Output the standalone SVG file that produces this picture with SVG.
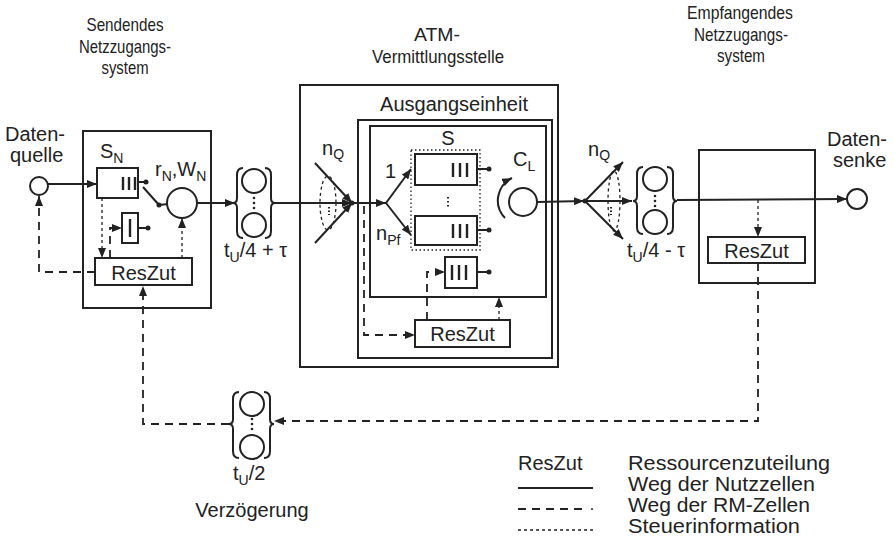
<svg xmlns="http://www.w3.org/2000/svg" width="895" height="539" viewBox="0 0 895 539">
<defs>
<marker id="ah" viewBox="0 0 10 8" refX="10" refY="4" markerWidth="10" markerHeight="8" markerUnits="userSpaceOnUse" orient="auto"><path d="M0,0 L10,4 L0,8 z" fill="#222"/></marker>
</defs>
<style>
text{font-family:"Liberation Sans",Arial,sans-serif;font-size:20px;fill:#222}
.t{font-size:19px;text-anchor:middle}
.sub{font-size:14px}
.box{fill:none;stroke:#222;stroke-width:2}
.sol{fill:none;stroke:#222;stroke-width:2}
.rm{fill:none;stroke:#222;stroke-width:1.8;stroke-dasharray:8 6}
.ctl{fill:none;stroke:#222;stroke-width:1.3;stroke-dasharray:3 3}
.dot{fill:#222}
.c{fill:#fff;stroke:#222;stroke-width:2}
.bar{stroke:#222;stroke-width:2.4}
</style>
<rect width="895" height="539" fill="#fff"/>

<g id="titles">
<text class="t" x="125" y="31" textLength="77" lengthAdjust="spacingAndGlyphs">Sendendes</text>
<text class="t" x="125" y="52.5" textLength="92" lengthAdjust="spacingAndGlyphs">Netzzugangs-</text>
<text class="t" x="125" y="74" textLength="47" lengthAdjust="spacingAndGlyphs">system</text>
<text class="t" x="437" y="41" textLength="46" lengthAdjust="spacingAndGlyphs">ATM-</text>
<text class="t" x="438" y="63" textLength="132" lengthAdjust="spacingAndGlyphs">Vermittlungsstelle</text>
<text class="t" x="740" y="19" textLength="106" lengthAdjust="spacingAndGlyphs">Empfangendes</text>
<text class="t" x="741" y="40.5" textLength="94" lengthAdjust="spacingAndGlyphs">Netzzugangs-</text>
<text class="t" x="741" y="62" textLength="48" lengthAdjust="spacingAndGlyphs">system</text>
</g>

<g id="datenquelle">
<text x="5" y="141">Daten-</text>
<text x="10" y="162">quelle</text>
<circle class="c" cx="39" cy="186" r="9"/>
</g>

<g id="sender">
<rect class="box" x="83" y="131" width="128" height="177"/>
<text x="100" y="158">S<tspan class="sub" dy="5">N</tspan></text>
<rect class="box" x="97" y="168" width="41" height="30"/>
<line class="bar" x1="123" y1="177" x2="123" y2="190"/>
<line class="bar" x1="129" y1="177" x2="129" y2="190"/>
<line class="bar" x1="135" y1="177" x2="135" y2="190"/>
<line class="sol" x1="138" y1="182" x2="146" y2="182"/>
<circle class="dot" cx="146" cy="182" r="2.5"/>
<line class="sol" x1="143" y1="187" x2="159" y2="205"/>
<circle class="dot" cx="159" cy="205" r="2.5"/>
<line class="sol" x1="159" y1="205" x2="168" y2="204"/>
<circle class="c" cx="182" cy="203" r="15"/>
<text x="155" y="176">r<tspan class="sub" dy="5">N</tspan><tspan dy="-5">,W</tspan><tspan class="sub" dy="5">N</tspan></text>
<rect class="box" x="122" y="213" width="16" height="30"/>
<line class="bar" x1="130" y1="219" x2="130" y2="237"/>
<line class="sol" x1="138" y1="228" x2="148" y2="228"/>
<circle class="dot" cx="148" cy="228" r="2.5"/>
<rect class="box" x="95" y="258" width="97" height="27"/>
<text x="143.5" y="280" text-anchor="middle">ResZut</text>
</g>

<g id="delay1">
<path class="sol" d="M243,168 Q237,168 237,175 L237,198 Q237,203 233,203 Q237,203 237,208 L237,231 Q237,238 243,238"/>
<path class="sol" d="M265,168 Q271,168 271,175 L271,198 Q271,203 275,203 Q271,203 271,208 L271,231 Q271,238 265,238"/>
<circle class="c" cx="254" cy="181" r="12"/>
<circle class="c" cx="254" cy="225" r="12"/>
<circle class="dot" cx="254" cy="198" r="1.3"/>
<circle class="dot" cx="254" cy="203" r="1.3"/>
<circle class="dot" cx="254" cy="208" r="1.3"/>
<text x="224" y="257">t<tspan class="sub" dy="5">U</tspan><tspan dy="-5">/4 + τ</tspan></text>
</g>

<g id="atm">
<rect class="box" x="300" y="85" width="258" height="282"/>
<text x="454" y="111" text-anchor="middle">Ausgangseinheit</text>
<rect class="box" x="358" y="120" width="194" height="238"/>
<rect class="box" x="370" y="126" width="176" height="171"/>
<text x="322" y="155">n<tspan class="sub" dy="4">Q</tspan></text>
<ellipse class="ctl" cx="328" cy="203" rx="8" ry="27"/>
<line x1="329" y1="207" x2="329" y2="215" stroke="#222" stroke-width="2" stroke-dasharray="1.5 2"/>
<text x="385" y="178" font-size="19">1</text>
<text x="376" y="240">n<tspan class="sub" dy="5">Pf</tspan></text>
<text x="448" y="145" text-anchor="middle">S</text>
<rect x="411" y="150" width="69" height="100" fill="none" stroke="#222" stroke-width="1.3" stroke-dasharray="1.5 2.5"/>
<rect class="box" x="415" y="154" width="62" height="31"/>
<line class="bar" x1="453" y1="163" x2="453" y2="177"/>
<line class="bar" x1="460" y1="163" x2="460" y2="177"/>
<line class="bar" x1="467" y1="163" x2="467" y2="177"/>
<line class="sol" x1="477" y1="169" x2="489" y2="169"/>
<circle class="dot" cx="489" cy="169" r="2.5"/>
<line x1="448" y1="197" x2="448" y2="208" stroke="#222" stroke-width="2" stroke-dasharray="1.5 2.5"/>
<rect class="box" x="415" y="216" width="62" height="29"/>
<line class="bar" x1="453" y1="224" x2="453" y2="238"/>
<line class="bar" x1="460" y1="224" x2="460" y2="238"/>
<line class="bar" x1="467" y1="224" x2="467" y2="238"/>
<line class="sol" x1="477" y1="230" x2="489" y2="230"/>
<circle class="dot" cx="489" cy="230" r="2.5"/>
<rect class="box" x="445" y="257" width="32" height="31"/>
<line class="bar" x1="452" y1="265" x2="452" y2="280"/>
<line class="bar" x1="459" y1="265" x2="459" y2="280"/>
<line class="bar" x1="466" y1="265" x2="466" y2="280"/>
<line class="sol" x1="477" y1="272" x2="489" y2="272"/>
<circle class="dot" cx="489" cy="272" r="2.5"/>
<circle class="c" cx="523" cy="202" r="14"/>
<path class="sol" d="M505,218 A25,25 0 0 1 512,178" marker-end="url(#ah)"/>
<text x="513" y="166">C<tspan class="sub" dy="5">L</tspan></text>
<rect class="box" x="415" y="320" width="95" height="27"/>
<text x="462.5" y="341" text-anchor="middle">ResZut</text>
</g>

<g id="delay2">
<path class="sol" d="M643,167 Q637,167 637,174 L637,196 Q637,201 633,201 Q637,201 637,206 L637,227 Q637,234 643,234"/>
<path class="sol" d="M667,167 Q673,167 673,174 L673,196 Q673,201 677,201 Q673,201 673,206 L673,227 Q673,234 667,234"/>
<circle class="c" cx="655" cy="179" r="12"/>
<circle class="c" cx="655" cy="222" r="12"/>
<circle class="dot" cx="655" cy="196" r="1.3"/>
<circle class="dot" cx="655" cy="201" r="1.3"/>
<circle class="dot" cx="655" cy="206" r="1.3"/>
<text x="588" y="156">n<tspan class="sub" dy="4">Q</tspan></text>
<ellipse class="ctl" cx="614" cy="201" rx="6" ry="30"/>
<line x1="611" y1="207" x2="611" y2="215" stroke="#222" stroke-width="2" stroke-dasharray="1.5 2"/>
<text x="627" y="257">t<tspan class="sub" dy="5">U</tspan><tspan dy="-5">/4 - τ</tspan></text>
</g>

<g id="receiver">
<rect class="box" x="699" y="150" width="116" height="133"/>
<rect class="box" x="708" y="237" width="97" height="26"/>
<text x="756.5" y="258" text-anchor="middle">ResZut</text>
</g>

<g id="datensenke">
<text x="827" y="146">Daten-</text>
<text x="833" y="167">senke</text>
<circle class="c" cx="857" cy="199" r="10"/>
</g>

<g id="delay3">
<path class="sol" d="M239,392 Q233,392 233,399 L233,419 Q233,424 229,424 Q233,424 233,429 L233,451 Q233,458 239,458"/>
<path class="sol" d="M264,392 Q270,392 270,399 L270,419 Q270,424 274,424 Q270,424 270,429 L270,451 Q270,458 264,458"/>
<circle class="c" cx="252" cy="404" r="12"/>
<circle class="c" cx="252" cy="447" r="12"/>
<circle class="dot" cx="252" cy="419" r="1.3"/>
<circle class="dot" cx="252" cy="424" r="1.3"/>
<circle class="dot" cx="252" cy="429" r="1.3"/>
<text x="233" y="480">t<tspan class="sub" dy="5">U</tspan><tspan dy="-5">/2</tspan></text>
<text x="252" y="517" text-anchor="middle">Verzögerung</text>
</g>

<g id="connectors">
<line class="sol" x1="48" y1="184" x2="97" y2="184" marker-end="url(#ah)"/>
<line class="sol" x1="197" y1="203" x2="235" y2="203" marker-end="url(#ah)"/>
<line class="sol" x1="275" y1="203" x2="352" y2="203" marker-end="url(#ah)"/>
<line class="sol" x1="315" y1="163" x2="352" y2="203" marker-end="url(#ah)"/>
<line class="sol" x1="315" y1="243" x2="352" y2="203" marker-end="url(#ah)"/>
<circle class="dot" cx="352" cy="203" r="2.5"/>
<line class="sol" x1="352" y1="203" x2="386" y2="203" marker-end="url(#ah)"/>
<line class="sol" x1="386" y1="203" x2="411" y2="169" marker-end="url(#ah)"/>
<line class="sol" x1="386" y1="203" x2="411" y2="235" marker-end="url(#ah)"/>
<line class="sol" x1="537" y1="202" x2="584" y2="201" marker-end="url(#ah)"/>
<circle class="dot" cx="585" cy="201" r="2.5"/>
<line class="sol" x1="585" y1="201" x2="623" y2="162" marker-end="url(#ah)"/>
<line class="sol" x1="585" y1="201" x2="632" y2="201" marker-end="url(#ah)"/>
<line class="sol" x1="585" y1="201" x2="623" y2="239" marker-end="url(#ah)"/>
<line class="sol" x1="677" y1="200" x2="847" y2="199" marker-end="url(#ah)"/>

<path class="ctl" d="M102,198 V258" marker-end="url(#ah)"/>
<path class="ctl" d="M182,258 V218" marker-end="url(#ah)"/>
<path class="rm" d="M110,258 V228 H122" marker-end="url(#ah)"/>
<path class="rm" d="M95,272 H39 V196" marker-end="url(#ah)"/>
<path class="rm" d="M229,424 H143 V286" marker-end="url(#ah)"/>

<path class="rm" d="M364,206 V335 H415" marker-end="url(#ah)"/>
<path class="rm" d="M427,320 V272 H445" marker-end="url(#ah)"/>
<path class="ctl" d="M499,320 V297" marker-end="url(#ah)"/>

<path class="ctl" d="M758,200 V237" marker-end="url(#ah)"/>
<path class="rm" d="M758,263 V421 H274" marker-end="url(#ah)"/>
</g>

<g id="legend">
<text x="518" y="470">ResZut</text>
<text x="628" y="470" textLength="202" lengthAdjust="spacingAndGlyphs">Ressourcenzuteilung</text>
<line class="sol" x1="518" y1="488" x2="593" y2="488"/>
<text x="628" y="491" textLength="187" lengthAdjust="spacingAndGlyphs">Weg der Nutzzellen</text>
<line class="rm" x1="518" y1="509" x2="586" y2="509"/>
<circle class="dot" cx="592" cy="509" r="1"/>
<text x="628" y="512" textLength="182" lengthAdjust="spacingAndGlyphs">Weg der RM-Zellen</text>
<line class="ctl" x1="518" y1="530" x2="593" y2="530"/>
<text x="628" y="533" textLength="172" lengthAdjust="spacingAndGlyphs">Steuerinformation</text>
</g>
</svg>
